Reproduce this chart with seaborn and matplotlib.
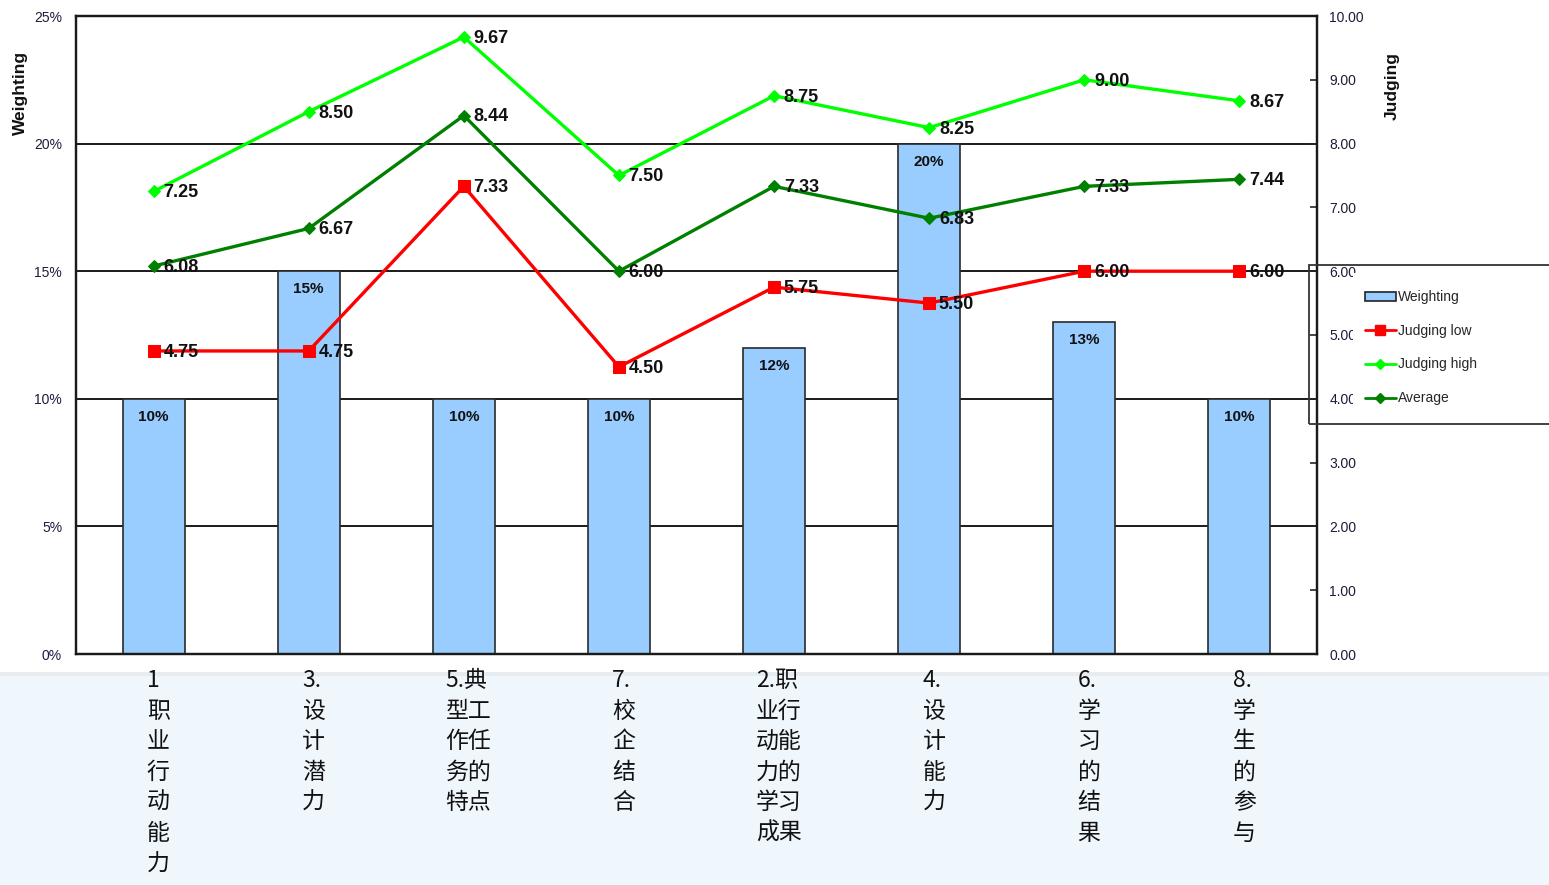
import numpy as np
import matplotlib
matplotlib.use("Agg")
import matplotlib.pyplot as plt
import matplotlib.transforms as mtransforms
from matplotlib.patches import Rectangle, Patch
from matplotlib.lines import Line2D
from matplotlib.ticker import FuncFormatter
import seaborn as sns

# data
categories = ["1\n职\n业\n行\n动\n能\n力", "3.\n设\n计\n潜\n力", "5.典\n型工\n作任\n务的\n特点",
              "7.\n校\n企\n结\n合", "2.职\n业行\n动能\n力的\n学习\n成果", "4.\n设\n计\n能\n力",
              "6.\n学\n习\n的\n结\n果", "8.\n学\n生\n的\n参\n与"]
weighting = [0.10, 0.15, 0.10, 0.10, 0.12, 0.20, 0.13, 0.10]
judging_low = [4.75, 4.75, 7.33, 4.50, 5.75, 5.50, 6.00, 6.00]
judging_high = [7.25, 8.50, 9.67, 7.50, 8.75, 8.25, 9.00, 8.67]
average = [6.08, 6.67, 8.44, 6.00, 7.33, 6.83, 7.33, 7.44]

sns.set_style("white")
plt.rcParams["font.family"] = ["Liberation Sans", "Noto Sans CJK SC", "DejaVu Sans"]

W, H = 1549, 885
fig = plt.figure(figsize=(W / 100, H / 100), dpi=100)
ax = fig.add_axes([76 / W, 1 - 654 / H, 1241 / W, 638 / H])

tick_col = "#1c1c3c"

sns.barplot(x=categories, y=weighting, ax=ax, color="#99CCFF", edgecolor="#2a2a2a",
            linewidth=1.2, width=0.4, saturation=1, zorder=2)
ax.set_ylim(0, 0.25)
ax.set_yticks(np.arange(0, 0.2501, 0.05))
ax.yaxis.set_major_formatter(FuncFormatter(lambda v, p: f"{v * 100:.0f}%"))
ax.set_axisbelow(True)
ax.yaxis.grid(True, color="#1a1a1a", linewidth=1.4)
ax.set_xlabel("")
ax.set_ylabel("")
ax.set_xticks(np.arange(-0.5, 8, 1))
ax.set_xticklabels([])
ax.tick_params(axis="x", direction="in", length=5, width=1.2, color="#222")
ax.tick_params(axis="y", direction="in", length=0, labelsize=10, labelcolor=tick_col, pad=10)
for s in ax.spines.values():
    s.set_color("#1a1a1a")
    s.set_linewidth(1.6)

for i, w in enumerate(weighting):
    ax.annotate(f"{w * 100:.0f}%", (i, w), xytext=(0, -13), textcoords="offset points",
                ha="center", va="center", fontsize=11, fontweight="bold", color="#111")

ax2 = ax.twinx()
pos = np.arange(len(categories))
series = [(judging_low, "#FF0000", "s", 8.5), (judging_high, "#00FF00", "D", 6.5),
          (average, "#008000", "D", 6.5)]
for vals, col, mk, ms in series:
    sns.lineplot(x=pos, y=vals, ax=ax2, color=col, marker=mk, markersize=ms,
                 markeredgecolor=col, linewidth=2.4)
    for i, v in enumerate(vals):
        ax2.annotate(f"{v:.2f}", (i, v), xytext=(7, -1), textcoords="offset points",
                     ha="left", va="center", fontsize=13, fontweight="bold", color="#111")
ax2.set_ylim(0, 10)
ax2.set_yticks(np.arange(0, 10.01, 1))
ax2.yaxis.set_major_formatter(FuncFormatter(lambda v, p: f"{v:.2f}"))
ax2.tick_params(axis="y", direction="in", length=5, width=1.2, labelsize=10,
                labelcolor=tick_col, pad=9)
ax2.set_ylabel("")
for s in ax2.spines.values():
    s.set_color("#1a1a1a")
    s.set_linewidth(1.6)
ax.set_xlim(-0.5, len(categories) - 0.5)

fig.text(20 / W, 1 - 93 / H, "Weighting", rotation=90, ha="center", va="center",
         fontsize=12.5, fontweight="bold", color="#111")
fig.text(1392 / W, 1 - 86 / H, "Judging", rotation=90, ha="center", va="center",
         fontsize=12.5, fontweight="bold", color="#111")

# legend box running off the right edge
fig.patches.append(Rectangle((1353 / W, 1 - 421 / H), 200 / W, 148 / H, transform=fig.transFigure,
                             facecolor="white", edgecolor="none", zorder=2))
fig.patches.append(Rectangle((1309 / W, 1 - 424 / H), 260 / W, 159 / H, transform=fig.transFigure,
                             facecolor="none", edgecolor="#333", linewidth=1.3, zorder=3))
handles = [Patch(facecolor="#99CCFF", edgecolor="#222", linewidth=1.2),
           Line2D([], [], color="#FF0000", marker="s", markersize=7, linewidth=2),
           Line2D([], [], color="#00FF00", marker="D", markersize=5, linewidth=2),
           Line2D([], [], color="#008000", marker="D", markersize=5, linewidth=2)]
fig.legend(handles, ["Weighting", "Judging low", "Judging high", "Average"], loc="upper left",
           bbox_to_anchor=(1365 / W, 1 - 290 / H), frameon=False, fontsize=10,
           labelspacing=1.42, handlelength=2.2, handleheight=0.6, handletextpad=0.2,
           borderaxespad=0, borderpad=0)

# light band holding the category labels
fig.patches.append(Rectangle((0, 0), 1, 209 / H, transform=fig.transFigure,
                             facecolor="#EFF6FC", edgecolor="none", zorder=1))
fig.patches.append(Rectangle((0, 209 / H), 1, 4 / H, transform=fig.transFigure,
                             facecolor="#E9ECEE", edgecolor="none", zorder=1))
trans = mtransforms.blended_transform_factory(ax.transData, fig.transFigure)
for i, lab in enumerate(categories):
    fig.text(i + 0.03, 1 - 669 / H, lab, transform=trans, ha="center", va="top",
             multialignment="left", fontsize=16.5, linespacing=1.42, color="#111",
             family=["Noto Sans CJK SC", "DejaVu Sans"])

fig.savefig("out.png", dpi=100)
